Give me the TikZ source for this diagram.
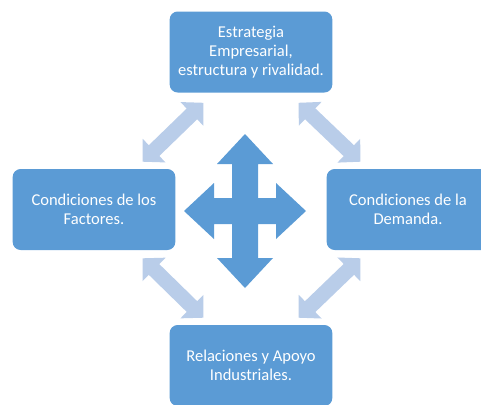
\documentclass[tikz,border=0pt]{standalone}
\usepackage{fontspec}
\setmainfont{Carlito}
\usetikzlibrary{arrows.meta,calc}
\definecolor{boxblue}{RGB}{91,155,213}
\definecolor{lightblue}{RGB}{185,205,233}
\tikzset{
  box/.style={fill=boxblue,rounded corners=6pt,minimum width=122pt,minimum height=60.75pt,
    text=white,align=center,font=\fontsize{12.4}{14}\selectfont},
  dblarrow/.style={draw=lightblue,line width=11.25pt,
    {Triangle[width=24pt,length=12pt]}-{Triangle[width=24pt,length=12pt]}}
}
\begin{document}
\begin{tikzpicture}[x=0.75pt,y=-0.75pt]
\useasboundingbox (0,0) rectangle (481,404);
\clip (0,0) rectangle (481,404);
\node[box] (top) at (251,52) {Estrategia\\Empresarial,\\estructura y rivalidad.};
\node[box] (left) at (94,209.5) {Condiciones de los\\Factores.};
\node[box] (right) at (408,209.5) {Condiciones de la\\Demanda.};
\node[box] (bottom) at (251,365.5) {Relaciones y Apoyo\\Industriales.};
\draw[dblarrow] ($(left.north east)+(-33,-7)$) -- ($(top.south west)+(34,10)$);
\draw[dblarrow] ($(top.south east)+(-34,10)$) -- ($(right.north west)+(34,-7)$);
\draw[dblarrow] ($(left.south east)+(-33,8)$) -- ($(bottom.north west)+(34,-7)$);
\draw[dblarrow] ($(right.south west)+(34,8)$) -- ($(bottom.north east)+(-34,-7)$);
\fill[boxblue,shift={(245,211)}] (0,-77) -- (28,-47) -- (13,-47) -- (13,-13) -- (31,-13) -- (31,-28)
  -- (61,0) -- (31,28) -- (31,13) -- (13,13) -- (13,47) -- (28,47) -- (0,77) -- (-28,47)
  -- (-13,47) -- (-13,13) -- (-31,13) -- (-31,28) -- (-61,0) -- (-31,-28) -- (-31,-13)
  -- (-13,-13) -- (-13,-47) -- (-28,-47) -- cycle;
\end{tikzpicture}
\end{document}
